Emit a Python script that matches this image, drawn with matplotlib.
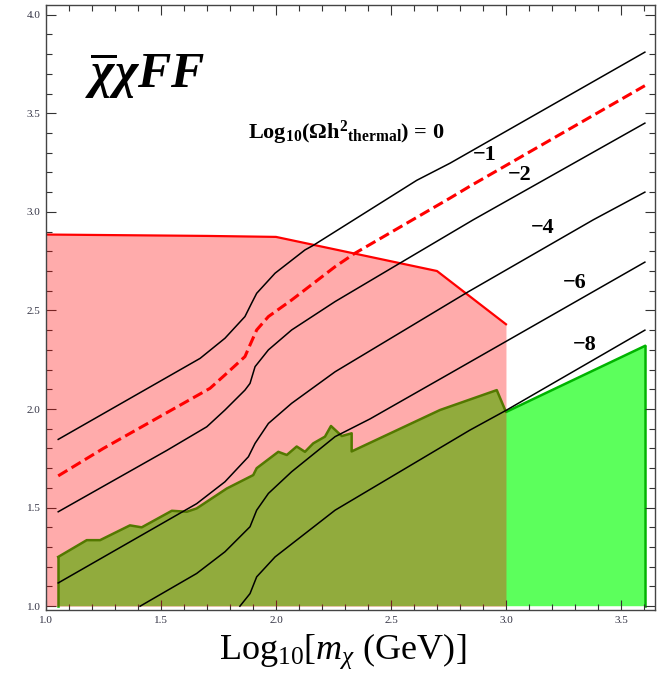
import numpy as np
import matplotlib.pyplot as plt
from matplotlib.ticker import MultipleLocator

plt.rcParams['font.family'] = ['Liberation Serif', 'DejaVu Serif']
plt.rcParams['mathtext.fontset'] = 'custom'
plt.rcParams['mathtext.rm'] = 'Liberation Serif'
plt.rcParams['mathtext.it'] = 'Liberation Serif:italic'
plt.rcParams['mathtext.bf'] = 'Liberation Serif:bold'
plt.rcParams['mathtext.bfit'] = 'Liberation Serif:bold:italic'

# contours of Log10(Omega h^2 thermal) in the (log10 m_chi, y) plane
x_0 = [1.053, 1.670, 1.778, 1.865, 1.894, 1.916, 1.996, 2.126, 2.162, 2.612, 2.757, 3.604]
y_0 = [1.846, 2.257, 2.359, 2.469, 2.537, 2.587, 2.689, 2.807, 2.830, 3.160, 3.247, 3.810]

x_m1 = [1.053, 1.249, 1.713, 1.778, 1.865, 1.887, 1.916, 1.967, 2.068, 2.257, 2.343, 2.757, 2.843, 3.604]
y_m1 = [1.661, 1.800, 2.105, 2.173, 2.266, 2.325, 2.401, 2.469, 2.553, 2.722, 2.790, 3.070, 3.130, 3.640]

x_m2 = [1.053, 1.525, 1.699, 1.778, 1.865, 1.887, 1.909, 1.967, 2.068, 2.257, 2.539, 2.858, 3.604]
y_m2 = [1.479, 1.790, 1.910, 1.995, 2.096, 2.130, 2.215, 2.300, 2.401, 2.545, 2.740, 2.960, 3.450]

x_m4 = [1.053, 1.655, 1.778, 1.880, 1.909, 1.967, 2.068, 2.257, 2.829, 3.380, 3.604]
y_m4 = [1.118, 1.520, 1.631, 1.758, 1.826, 1.927, 2.029, 2.189, 2.590, 2.960, 3.100]

x_m6 = [1.409, 1.655, 1.778, 1.887, 1.916, 1.967, 2.068, 2.257, 2.409, 2.757, 3.604]
y_m6 = [1.000, 1.166, 1.276, 1.403, 1.487, 1.572, 1.682, 1.860, 1.950, 2.181, 2.745]

x_m8 = [1.843, 1.887, 1.916, 1.996, 2.257, 2.843, 3.003, 3.604]
y_m8 = [1.000, 1.064, 1.149, 1.250, 1.487, 1.893, 1.995, 2.400]

# excluded regions
red_x = [1.0, 1.70, 2.0, 2.70, 3.0]
red_y = [2.885, 2.878, 2.873, 2.700, 2.430]

green_x = [1.053, 1.053, 1.177, 1.235, 1.365, 1.416, 1.547, 1.612, 1.655, 1.786, 1.901, 1.916,
           2.010, 2.047, 2.090, 2.126, 2.162, 2.213, 2.239, 2.286, 2.329, 2.329, 2.713, 2.960,
           3.0, 3.604, 3.604]
green_y = [1.0, 1.250, 1.335, 1.335, 1.410, 1.400, 1.484, 1.479, 1.496, 1.597, 1.665, 1.700,
           1.783, 1.767, 1.810, 1.783, 1.826, 1.860, 1.914, 1.863, 1.877, 1.785, 1.995, 2.096,
           1.985, 2.320, 1.0]

label_text = ['\u22121', '\u22122', '\u22124', '\u22126', '\u22128']
label_x = [2.909, 3.061, 3.161, 3.300, 3.343]
label_y = [3.290, 3.188, 2.919, 2.640, 2.325]

fig = plt.figure(figsize=(6.67, 6.91), dpi=100)
ax = fig.add_axes([0.069, 0.117, 0.913, 0.876])

ax.fill(green_x, green_y, color='#5cff5c', lw=0, zorder=1)
ax.plot(green_x[1:-1], green_y[1:-1], color='#00b400', lw=1.8, zorder=1.5)
ax.plot(green_x[:2], green_y[:2], color='#00b400', lw=1.8, zorder=1.5)
ax.plot(green_x[-2:], green_y[-2:], color='#00b400', lw=1.8, zorder=1.5)

ax.fill_between(red_x, red_y, 1.0, color='#ff0000', alpha=0.33, lw=0, zorder=2)
ax.plot(red_x, red_y, color='#ff0000', lw=1.6, zorder=2.5)

for xs, ys in [(x_0, y_0), (x_m2, y_m2), (x_m4, y_m4), (x_m6, y_m6), (x_m8, y_m8)]:
    ax.plot(xs, ys, color='black', lw=1.1, zorder=3)
ax.plot(x_m1, y_m1, color='#ff0000', lw=2.2, dashes=(3.5, 1.6), zorder=3)

ax.text(2.307, 3.40, 'Log$_{\\mathbf{10}}$(\u03a9h$^{\\mathbf{2}}$$_{\\mathbf{thermal}}$) = 0',
        fontsize=16, fontweight='bold', ha='center', va='center', zorder=4)
for t, lx, ly in zip(label_text, label_x, label_y):
    ax.text(lx, ly, t, fontsize=16, fontweight='bold', ha='center', va='center', zorder=4)

ax.text(1.43, 3.69, r'$\mathbfit{\overline{\chi}\chi FF}$', fontsize=36, ha='center', va='center', zorder=4)

ax.set_xlim(1.0, 3.648)
ax.set_ylim(0.98, 4.05)
ax.xaxis.set_major_locator(MultipleLocator(0.5))
ax.xaxis.set_minor_locator(MultipleLocator(0.1))
ax.yaxis.set_major_locator(MultipleLocator(0.5))
ax.yaxis.set_minor_locator(MultipleLocator(0.1))
ax.tick_params(which='both', direction='in', top=True, right=True, labelsize=8,
               labelcolor='#333344', color='#333333', width=0.8, pad=4)
ax.tick_params(which='major', length=7)
ax.tick_params(which='minor', length=4)
for s in ax.spines.values():
    s.set_color('#444444')
    s.set_linewidth(1.0)

ax.set_xlabel('Log$_{10}$[$m_{\\chi}$ (GeV)]', fontsize=26, labelpad=5)
ax.xaxis.label.set_x(0.487)

fig.savefig('out.png', dpi=100)
